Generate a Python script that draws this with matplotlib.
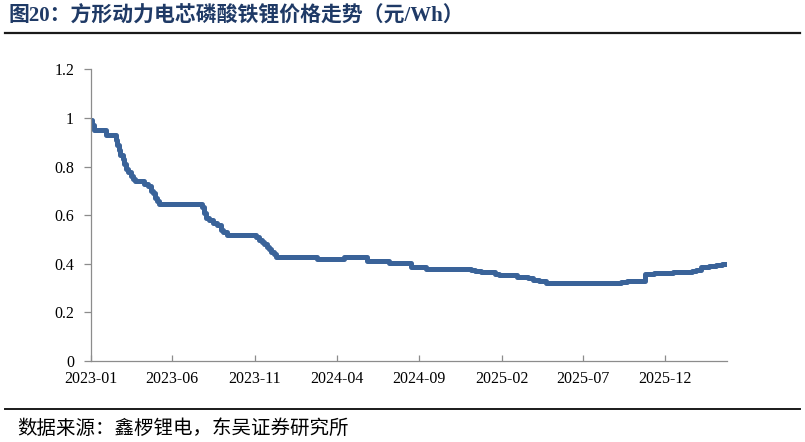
import matplotlib
matplotlib.use("Agg")
import matplotlib.pyplot as plt
import matplotlib.dates as mdates
from matplotlib.lines import Line2D
import pandas as pd

# 方形动力电芯磷酸铁锂价格（元/Wh），记录每次价格变动的日期与新价格
dates = [
    "2023-01-01", "2023-01-04", "2023-01-08", "2023-01-30", "2023-02-16",
    "2023-02-19", "2023-02-22", "2023-02-25", "2023-03-01", "2023-03-04",
    "2023-03-07", "2023-03-12", "2023-03-16", "2023-03-20", "2023-03-24",
    "2023-04-10", "2023-04-18", "2023-04-22", "2023-04-26", "2023-04-30",
    "2023-05-04", "2023-05-07", "2023-07-26", "2023-07-30", "2023-08-02",
    "2023-08-08", "2023-08-16", "2023-08-24", "2023-08-30", "2023-09-04",
    "2023-09-10", "2023-11-03", "2023-11-09", "2023-11-14", "2023-11-19",
    "2023-11-24", "2023-11-28", "2023-12-02", "2023-12-06", "2023-12-10",
    "2024-02-24", "2024-04-14", "2024-05-27", "2024-07-07", "2024-08-16",
    "2024-09-14", "2024-12-06", "2024-12-14", "2024-12-24", "2025-01-12",
    "2025-01-20", "2025-01-28", "2025-02-22", "2025-03-01", "2025-03-10",
    "2025-03-22", "2025-04-01", "2025-04-12", "2025-04-24", "2025-05-10",
    "2025-08-10", "2025-08-26", "2025-09-10", "2025-09-22", "2025-10-24",
    "2025-11-10", "2025-11-26", "2025-12-15", "2026-01-05", "2026-01-20",
    "2026-01-27", "2026-02-06", "2026-02-20", "2026-03-05", "2026-03-16",
    "2026-03-26",
]
prices = [
    0.99, 0.97, 0.95, 0.93, 0.91,
    0.89, 0.87, 0.85, 0.83, 0.81,
    0.79, 0.78, 0.76, 0.75, 0.74,
    0.73, 0.72, 0.70, 0.69, 0.67,
    0.66, 0.648, 0.635, 0.61, 0.59,
    0.58, 0.57, 0.56, 0.54, 0.53,
    0.518, 0.51, 0.50, 0.49, 0.48,
    0.47, 0.46, 0.45, 0.44, 0.428,
    0.418, 0.426, 0.412, 0.405, 0.388,
    0.378, 0.376, 0.372, 0.368, 0.365,
    0.360, 0.356, 0.352, 0.347, 0.344,
    0.340, 0.335, 0.331, 0.322, 0.320,
    0.321, 0.323, 0.326, 0.329, 0.360,
    0.361, 0.363, 0.365, 0.367, 0.370,
    0.375, 0.388, 0.392, 0.395, 0.398,
    0.398,
]
tick_dates = ["2023-01-01", "2023-06-01", "2023-11-01", "2024-04-01",
              "2024-09-01", "2025-02-01", "2025-07-01", "2025-12-01"]
y_ticks = [0, 0.2, 0.4, 0.6, 0.8, 1.0, 1.2]
y_labels = ["0", "0.2", "0.4", "0.6", "0.8", "1", "1.2"]

title = "图20：方形动力电芯磷酸铁锂价格走势（元/Wh）"
source = "数据来源：鑫椤锂电，东吴证券研究所"

serif_cjk = ["Liberation Serif", "Noto Sans CJK SC"]
axis_grey = "#8c8c8c"

x = pd.to_datetime(dates)

fig = plt.figure(figsize=(8.05, 4.42), dpi=100)
ax = fig.add_axes([0.1127, 0.1833, 0.7905, 0.6595])

ax.plot(x, prices, color="#3A6399", lw=3.6, drawstyle="steps-post",
        solid_joinstyle="round", solid_capstyle="butt")

ax.set_xlim(x[0], x[-1])
ax.set_ylim(0, 1.2)
ax.set_xticks(pd.to_datetime(tick_dates))
ax.xaxis.set_major_formatter(mdates.DateFormatter("%Y-%m"))
ax.set_yticks(y_ticks)
ax.set_yticklabels(y_labels)

for side in ("top", "right"):
    ax.spines[side].set_visible(False)
for side in ("left", "bottom"):
    ax.spines[side].set_color(axis_grey)
    ax.spines[side].set_linewidth(0.9)

ax.tick_params(axis="x", direction="in", length=4, width=0.9,
               color=axis_grey, pad=7)
ax.tick_params(axis="y", direction="out", length=5, width=0.9,
               color=axis_grey, pad=7)
for lab in ax.get_xticklabels() + ax.get_yticklabels():
    lab.set_fontfamily("Liberation Serif")
    lab.set_fontsize(11.5)
    lab.set_color("black")

fig.text(0.010, 0.963, title, family=serif_cjk, fontsize=15,
         fontweight="bold", color="#1F3A66", ha="left", va="center")
fig.add_artist(Line2D([0.006, 0.994], [0.925, 0.925], color="#1a1a1a",
                      lw=1.6, transform=fig.transFigure))

fig.add_artist(Line2D([0.006, 0.994], [0.074, 0.074], color="#1a1a1a",
                      lw=1.4, transform=fig.transFigure))
fig.text(0.021, 0.030, source, family=serif_cjk, fontsize=14,
         color="black", ha="left", va="center")

fig.savefig("out.png", dpi=100)
